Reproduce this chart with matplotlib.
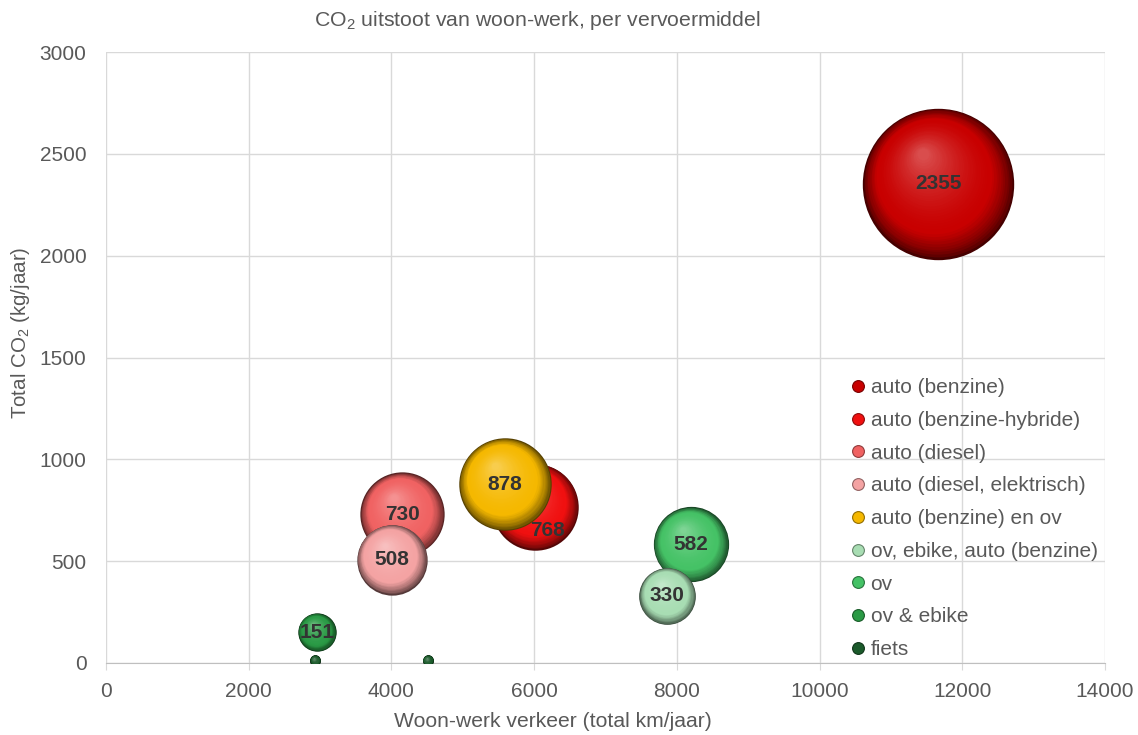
import numpy as np
import matplotlib
matplotlib.use('Agg')
import matplotlib.pyplot as plt
from matplotlib.transforms import ScaledTranslation
from matplotlib.lines import Line2D
from matplotlib.colors import to_rgb

#=====================
# Data (uit de grafiek)
#=====================

vervoer = ['auto (benzine)', 'auto (benzine-hybride)', 'auto (diesel)',
           'auto (diesel, elektrisch)', 'auto (benzine) en ov',
           'ov, ebike, auto (benzine)', 'ov', 'ov & ebike', 'fiets']

km_jaar = [[11660], [6010], [4150], [4005], [5590], [7865], [8195], [2955], [2930, 4510]]
co2_jaar = [[2355], [768], [730], [508], [878], [330], [582], [151], [12, 12]]

# Kleuren per vervoermiddel
kleuren = ['#C80000', '#F01010', '#F06262', '#F4A3A3', '#F5B800',
           '#A8DDB3', '#45C266', '#2A9A45', '#1B5A2B']

# Volgorde van tekenen (330 ligt boven 582)
volgorde = [0, 1, 2, 3, 4, 6, 5, 7, 8]

plt.rcParams['font.family'] = ['Liberation Sans', 'DejaVu Sans']
plt.rcParams['mathtext.fontset'] = 'custom'
plt.rcParams['mathtext.rm'] = 'Liberation Sans'

GRIJS = '#595959'

fig = plt.figure(figsize=(11.38, 7.35), dpi=100)
ax = fig.add_axes([0.0931, 0.098, 0.8779, 0.831])

ax.set_xlim(0, 14000)
ax.set_ylim(0, 3000)

# Grootte van de bel evenredig met de CO2 (oppervlak)
max_co2 = max(max(c) for c in co2_jaar)
diam_max = 109.0  # punten
schaal = diam_max**2 / max_co2


def mix(c1, c2, f):
    c1 = np.array(to_rgb(c1))
    c2 = np.array(to_rgb(c2))
    return tuple(c1 + (c2 - c1) * f)


def bol(x, y, s, kleur, z):
    # bol met schaduw: concentrische cirkels richting het lichtpunt
    r_pt = np.sqrt(s) / 2.0
    n = 40
    donker = mix(kleur, '#000000', 0.65)
    licht = mix(kleur, '#ffffff', 0.3)
    for k in range(n):
        t = k / (n - 1)
        rf = 1.0 - 0.92 * t
        if t < 0.25:
            c = mix(donker, kleur, (t / 0.25) ** 0.7)
        else:
            c = mix(kleur, licht, ((t - 0.25) / 0.75) ** 1.6)
        dx = -0.22 * r_pt * (1 - rf) / 72.0
        dy = 0.42 * r_pt * (1 - rf) / 72.0
        trans = ax.transData + ScaledTranslation(dx, dy, fig.dpi_scale_trans)
        ax.scatter([x], [y], s=(2 * r_pt * rf) ** 2, color=c, linewidths=0,
                   transform=trans, zorder=z + k * 0.001)


for z, i in enumerate(volgorde):
    for x, y in zip(km_jaar[i], co2_jaar[i]):
        bol(x, y, y * schaal, kleuren[i], 3 + z)

# Labels in de bellen
for i in range(len(vervoer)):
    if vervoer[i] == 'fiets':
        continue
    for x, y in zip(km_jaar[i], co2_jaar[i]):
        verschuiving = (9, -17) if y == 768 else (0, 0)
        ax.annotate(str(y), (x, y), xytext=verschuiving, textcoords='offset points',
                    ha='center', va='center', fontsize=15, fontweight='bold',
                    color='#333333', zorder=20)

#=========
# Opmaak
#=========

ax.set_xticks(np.arange(0, 14001, 2000))
ax.set_yticks(np.arange(0, 3001, 500))
ax.grid(True, color='#d9d9d9', linewidth=1.0)
ax.set_axisbelow(True)
for kant in ['left', 'right', 'top']:
    ax.spines[kant].set_visible(False)
ax.spines['bottom'].set_color('#bfbfbf')
ax.tick_params(axis='x', direction='out', length=5, color='#d9d9d9',
               labelsize=15, labelcolor=GRIJS, pad=9)
ax.tick_params(axis='y', length=0, labelsize=15, labelcolor=GRIJS, pad=14)

fig.text(537 / 1138, 1 - 20 / 735, r'CO$_2$ uitstoot van woon-werk, per vervoermiddel',
         fontsize=15.3, color=GRIJS, ha='center', va='center')
ax.set_xlabel('Woon-werk verkeer (total km/jaar)', fontsize=15.2, color=GRIJS)
ax.set_ylabel(r'Total CO$_2$ (kg/jaar)', fontsize=14.8, color=GRIJS)
ax.xaxis.set_label_coords(0.447, -0.081)
ax.yaxis.set_label_coords(-0.074, 0.54)

# Legenda
handles = [Line2D([], [], linestyle='none', marker='o', markersize=8.5,
                  markerfacecolor=kleuren[i], markeredgecolor=mix(kleuren[i], '#000000', 0.4),
                  markeredgewidth=0.8, label=vervoer[i]) for i in range(len(vervoer))]
leg = ax.legend(handles=handles, loc='upper left', bbox_to_anchor=(0.734, 0.48),
                frameon=False, fontsize=15, labelspacing=0.66, handletextpad=0.1,
                handlelength=1.0, borderaxespad=0)
for tekst in leg.get_texts():
    tekst.set_color(GRIJS)
leg.set_zorder(30)

plt.savefig('out.png', dpi=100)
